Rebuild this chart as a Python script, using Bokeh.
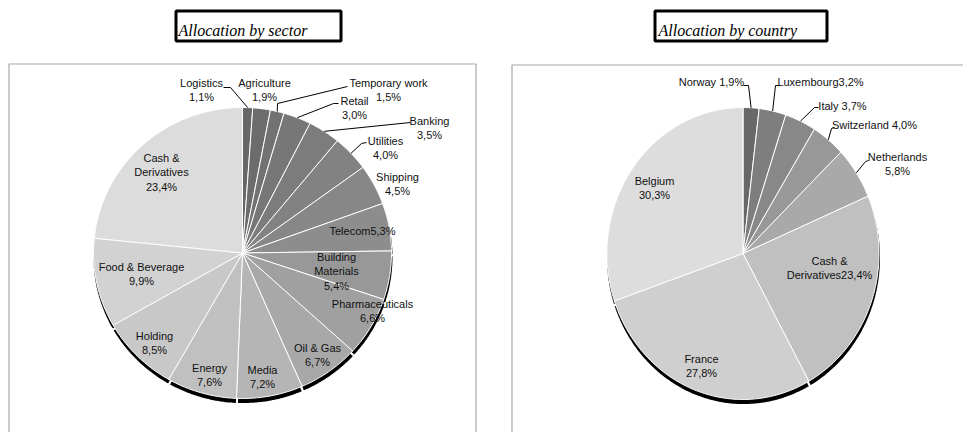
import numpy as np
from bokeh.plotting import figure
from bokeh.models import Range1d
from bokeh.core.properties import value
from bokeh.embed import file_html
from bokeh.resources import INLINE

# ---------------- data ----------------
sector_names = ["Logistics", "Agriculture", "Temporary work", "Retail", "Banking",
                "Utilities", "Shipping", "Telecom", "Building Materials",
                "Pharmaceuticals", "Oil & Gas", "Media", "Energy", "Holding",
                "Food & Beverage", "Cash & Derivatives"]
sector_values = [1.1, 1.9, 1.5, 3.0, 3.5, 4.0, 4.5, 5.3, 5.4, 6.6, 6.7, 7.2, 7.6, 8.5, 9.9, 23.4]

country_names = ["Norway", "Luxembourg", "Italy", "Switzerland", "Netherlands",
                 "Cash & Derivatives", "France", "Belgium"]
country_values = [1.9, 3.2, 3.7, 4.0, 5.8, 23.4, 27.8, 30.3]

titles = ["Allocation by sector", "Allocation by country"]

# ---------------- styling / layout ----------------
sector_colors = ["#666666", "#6c6c6c", "#727272", "#777777", "#7c7c7c", "#828282",
                 "#878787", "#8d8d8d", "#989898", "#a0a0a0", "#a8a8a8", "#b5b5b5",
                 "#c0c0c0", "#c8c8c8", "#d2d2d2", "#dcdcdc"]
country_colors = ["#686868", "#7e7e7e", "#888888", "#989898", "#a9a9a9",
                  "#c0c0c0", "#cfcfcf", "#dddddd"]

wrap = {"Building Materials": "Building\nMaterials", "Cash & Derivatives": "Cash &\nDerivatives"}

sector_seps = ["\n"] * 16
sector_seps[7] = ""
sector_label_xy = [(201, 82), (264, 82), (388, 82), (354, 100), (429, 120), (385, 140),
                   (397, 176), (362, 230), (336, 256), (372, 303), (317, 347), (262, 369),
                   (209, 367), (154, 335), (141, 266), (161, 157)]
sector_leader_start = {0: [(223, 87), (230, 87)], 2: [(347, 86), (277, 103)],
                       3: [(338, 103), (333, 103)], 4: [(410, 122)],
                       5: [(366, 142), (361, 143)]}

country_seps = [" ", "", " ", " ", "\n", "", "\n", "\n"]
country_label_xy = [(711, 81), (820, 81), (842, 105), (874, 124), (897, 156),
                    (829, 260), (701, 358), (654, 180)]
country_leader_start = {0: [(743, 85), (748, 85)], 1: [(780, 85), (775, 85)],
                        2: [(818, 107), (814, 107)], 3: [(834, 127), (831, 128)],
                        4: [(868, 160), (865, 161)]}

W, H = 963, 432
p = figure(width=W, height=H, output_backend="svg", toolbar_location=None,
           x_range=Range1d(0, W), y_range=Range1d(H, 0), min_border=0)
p.axis.visible = False
p.grid.visible = False
p.outline_line_color = None
p.background_fill_color = "white"
p.border_fill_color = "white"

# frames
p.quad(left=[8.5, 511.5], right=[475.5, 990], top=[63.5, 64.5], bottom=[450, 450],
       fill_color=None, line_color="#a8a8a8", line_width=1.2)

# title boxes
p.quad(left=[175.5, 654.5], right=[340.5, 826.5], top=[10.5, 10.5], bottom=[40.5, 40.5],
       fill_color="white", line_color="black", line_width=3)
p.text(x=[178, 658], y=[30, 30], text=titles, text_font=value("Liberation Serif"),
       text_font_style="italic", text_font_size="16px", text_color="black",
       text_align="left", text_baseline="alphabetic")


def pct(v):
    return f"{v:.1f}".replace(".", ",") + "%"


def wedge_poly(cx, cy, rx, ry, f0, f1):
    n = max(3, int(abs(f1 - f0) * 400))
    t = 2 * np.pi * np.linspace(f0, f1, n)
    xs = [cx] + list(cx + rx * np.sin(t))
    ys = [cy] + list(cy - ry * np.cos(t))
    return xs, ys


def draw_pie(values, colors, cx, cy, rx, ry, seps, names, label_xy, leader_start):
    vals = np.array(values, dtype=float)
    fr = vals / vals.sum()
    ends = np.cumsum(fr)
    starts = ends - fr
    # shadow
    sx, sy = [], []
    for a, b in zip(starts, ends):
        xs, ys = wedge_poly(cx + 0.5, cy + 4, rx + 1.5, ry + 1.5, a, b)
        sx.append(xs)
        sy.append(ys)
    p.patches(sx, sy, fill_color="black", line_color="white", line_width=2.0)
    # slices
    px, py = [], []
    for a, b in zip(starts, ends):
        xs, ys = wedge_poly(cx, cy, rx, ry, a, b)
        px.append(xs)
        py.append(ys)
    p.patches(px, py, fill_color=colors, line_color="white", line_width=1.0)
    # leaders
    lx, ly = [], []
    for i, pts in leader_start.items():
        m = 2 * np.pi * (starts[i] + ends[i]) / 2
        ex, ey = cx + rx * np.sin(m), cy - ry * np.cos(m)
        lx.append([q[0] for q in pts] + [ex])
        ly.append([q[1] for q in pts] + [ey])
    p.multi_line(lx, ly, line_color="black", line_width=1)
    # labels
    tx, ty, tt = [], [], []
    for name, v, sep, (x, y) in zip(names, values, seps, label_xy):
        full = wrap.get(name, name) + sep + pct(v)
        for k, line in enumerate(full.split("\n")):
            tx.append(x)
            ty.append(y + k * 14.5)
            tt.append(line)
    p.text(x=tx, y=ty, text=tt, text_font=value("Liberation Sans"), text_font_size="11px",
           text_color="#111111", text_align="center", text_baseline="middle")


draw_pie(sector_values, sector_colors, 242, 252.5, 149, 145.5, sector_seps,
         sector_names, sector_label_xy, sector_leader_start)
draw_pie(country_values, country_colors, 742.5, 253, 136, 146, country_seps,
         country_names, country_label_xy, country_leader_start)

open("out.html", "w").write(file_html(p, INLINE))
